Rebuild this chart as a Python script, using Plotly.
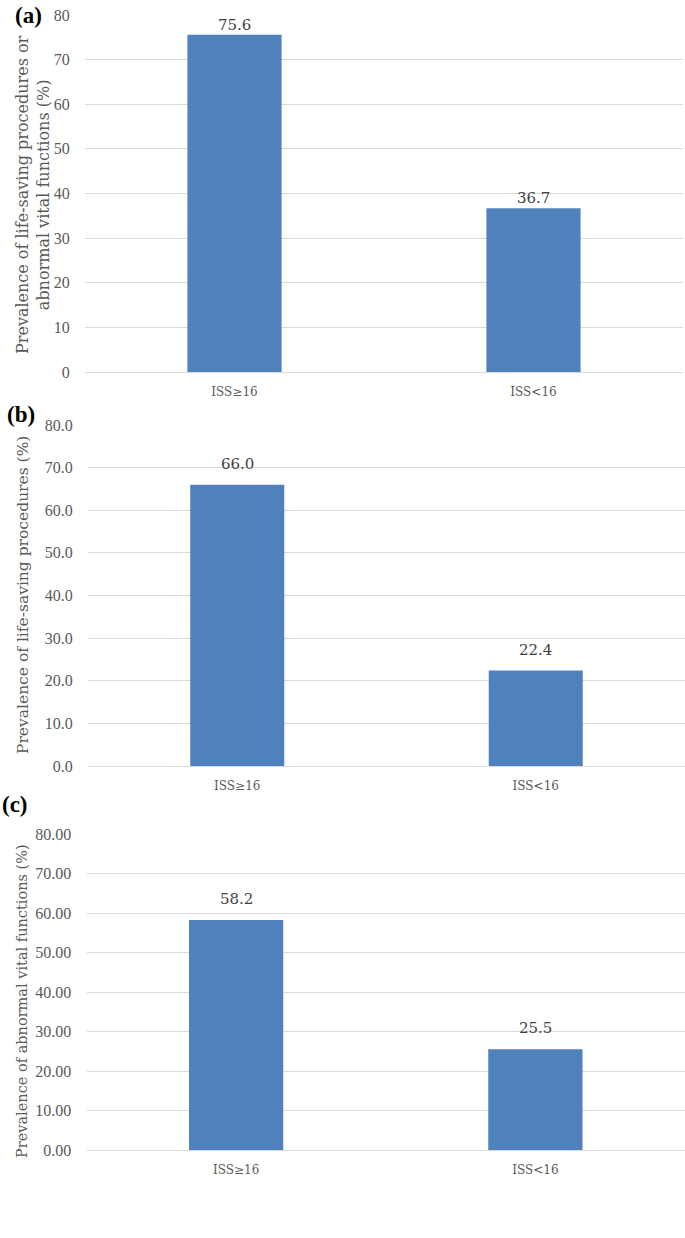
import plotly.graph_objects as go

categories = ["ISS≥16", "ISS<16"]
tick_labels = ["ISS≥16", "ISS&lt;16"]
values_a = [75.6, 36.7]
values_b = [66.0, 22.4]
values_c = [58.2, 25.5]
titles = [
    "Prevalence of life-saving procedures or<br>abnormal vital functions (%)",
    "Prevalence of life-saving procedures (%)",
    "Prevalence of abnormal vital functions (%)",
]
tick_formats = ["d", ".1f", ".2f"]
panel_labels = ["(a)", "(b)", "(c)"]

W, H = 685, 1238
BAR = "#4F81BD"
GRID = "#D9D9D9"
TICK = "#595959"
FONT = "DejaVu Serif"
TFONT = "Liberation Serif"

# target screen geometry of each panel: (x0, x1, ytop, ybottom)
geo = [(85, 683, 15, 372), (88, 685, 425, 766), (86.5, 685, 834, 1150)]
title_pos = [(33, 195, 16), (23, 595, 15.5), (22, 1001, 14.5)]
label_pos = [(28, 15, "center"), (21, 414, "center"), (0, 804, "left")]
value_shift = [10, 21, 21]


def px(x):
    return x / W


def py(y):
    return 1 - y / H


fig = go.Figure()
series = [values_a, values_b, values_c]
for i, vals in enumerate(series):
    n = "" if i == 0 else str(i + 1)
    fig.add_trace(go.Bar(
        x=categories, y=vals, xaxis="x" + n, yaxis="y" + n,
        marker=dict(color=BAR, line=dict(width=0)),
        width=0.315, hoverinfo="skip",
    ))
    for c, v in zip(categories, vals):
        fig.add_annotation(
            x=c, y=v, xref="x" + n, yref="y" + n, text=f"{v:.1f}",
            showarrow=False, xanchor="center", yanchor="middle",
            yshift=value_shift[i],
            font=dict(family=FONT, size=15, color="#404040"),
        )
    x0, x1, yt, yb = geo[i]
    fig.layout["xaxis" + n] = dict(
        domain=[px(x0), min(px(x1), 1)], anchor="y" + n,
        type="category", range=[-0.5, 1.5],
        tickvals=categories, ticktext=tick_labels,
        showgrid=False, showline=True, linecolor=GRID, linewidth=1,
        ticks="outside", ticklen=9, tickcolor="rgba(0,0,0,0)",
        tickfont=dict(family=FONT, size=12, color=TICK),
        automargin=False,
    )
    fig.layout["yaxis" + n] = dict(
        domain=[py(yb), py(yt)], anchor="x" + n,
        range=[0, 80], dtick=10, tickformat=tick_formats[i],
        showgrid=True, gridcolor=GRID, gridwidth=1,
        zeroline=False, showline=False,
        ticks="outside", ticklen=11, tickcolor="rgba(0,0,0,0)",
        tickfont=dict(family=TFONT, size=16, color=TICK),
        automargin=False,
    )
    tx, ty, ts = title_pos[i]
    fig.add_annotation(
        text=titles[i], xref="paper", yref="paper",
        x=px(tx), y=py(ty),
        textangle=-90, showarrow=False, xanchor="center", yanchor="middle",
        font=dict(family=FONT, size=ts, color=TICK),
    )
    lx, ly, anc = label_pos[i]
    fig.add_annotation(
        text="<b>" + panel_labels[i] + "</b>", xref="paper", yref="paper",
        x=px(lx), y=py(ly), showarrow=False,
        xanchor=anc, yanchor="middle",
        font=dict(family="Liberation Serif", size=23, color="black"),
    )

fig.update_layout(
    width=W, height=H, margin=dict(l=0, r=0, t=0, b=0, autoexpand=False),
    paper_bgcolor="white", plot_bgcolor="white",
    showlegend=False,
)

fig.write_html("out.html", config={"displayModeBar": False},
               post_script="document.body.style.margin='0';")
